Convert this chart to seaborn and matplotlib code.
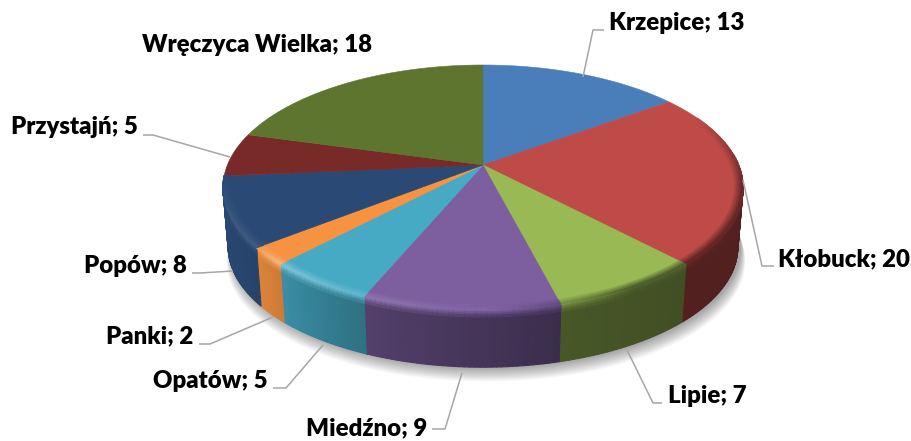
import numpy as np
import seaborn as sns
import matplotlib
matplotlib.use("Agg")
import matplotlib.pyplot as plt
from matplotlib.collections import PolyCollection

gminy = ['Krzepice', 'Kłobuck', 'Lipie', 'Miedźno', 'Opatów', 'Panki', 'Popów', 'Przystajń', 'Wręczyca Wielka']
counts = [13, 20, 7, 9, 5, 2, 8, 5, 18]
hex_colors = ['#4a7ebb', '#be4b48', '#98b954', '#7d5fa0', '#46aac5', '#f69240', '#2a4a75', '#772a28', '#5e7530']

# label anchor (px), alignment and leader polyline, all by hand
label_pos = [(609, 30, 'left'), (778, 266, 'left'), (668, 403, 'left'), (427, 435, 'right'), (268, 388, 'right'),
             (193, 343, 'right'), (187, 273, 'right'), (138, 134, 'right'), (372, 52, 'right')]
leaders = [[(583, 77), (593, 30), (604, 30)],
           [(743, 180), (762, 266), (774, 266)],
           [(627, 350), (653, 403), (662, 403)],
           [(462, 373), (445, 429), (432, 429)],
           [(323, 345), (286, 388), (273, 388)],
           [(273, 317), (210, 344), (199, 344)],
           [(233, 271), (200, 273), (192, 273)],
           [(230, 157), (153, 135), (143, 135)]]

sns.set_theme(style='white')
plt.rcParams['font.family'] = ['Lato', 'DejaVu Sans']
palette = sns.color_palette(hex_colors)

# perspective disc, pixel geometry
cx, cy = 483, 165
a, b, k = 255.6, 118.4, 0.184
bottom_cy, bottom_s = 225, 0.98


def top_xy(theta, scale=1.0):
    u, v = np.sin(theta) * scale, np.cos(theta) * scale
    d = 1 + k * v
    return np.c_[cx + a * u / d, cy - b * v / d]


def side_xy(theta, frac):
    # frac 0 = rim of the top, 1 = bottom edge of the side
    u, v = np.sin(theta), np.cos(theta)
    d = 1 + k * v
    s = 1 + (bottom_s - 1) * frac
    y0 = cy + (bottom_cy - cy) * frac
    return np.c_[cx + a * u * s / d, y0 - b * v * s / d]


def side_shade(deg):
    return np.interp(deg, [90, 140, 165, 190, 205, 225, 235, 280], [.42, .43, .47, .6, .68, .85, .92, 1.0])


def rim_light(deg):
    # >0 lighter rim on the front left, <0 dark rim on the right, nothing at the back
    return np.interp(deg, [65, 100, 150, 178, 205, 225, 232, 250, 265], [0, -.45, -.5, .02, .14, .3, .1, .06, 0])


def mix(col, other, t):
    return tuple(np.clip(np.array(col) * (1 - t) + np.array(other) * t, 0, 1))


def shaded(col, light):
    return mix(col, (1, 1, 1), light) if light > 0 else mix(col, (0, 0, 0), -light)


fig = plt.figure(figsize=(9.11, 4.41), dpi=100)
ax = fig.add_axes([0, 0, 1, 1])
ax.set_xlim(0, 911)
ax.set_ylim(441, 0)
ax.axis('off')

# soft shadow under the disc
ring = np.radians(np.arange(0, 361, 3))
base = side_xy(ring, 1)
for i in range(16):
    grow = 1 + 0.0012 * i
    sh = np.c_[cx + 3 + (base[:, 0] - cx) * grow, base[:, 1] + 1 + i * 0.9]
    ax.fill(sh[:, 0], sh[:, 1], color='#000000', alpha=0.022, lw=0, zorder=1)

edges = np.cumsum([0] + counts) / sum(counts) * 360
side_polys, side_cols = [], []
bev_polys, bev_cols = [], []
for i, col in enumerate(palette):
    step = np.arange(edges[i], edges[i + 1], 1.0)
    step = np.append(step, edges[i + 1])
    for d0, d1 in zip(step[:-1], step[1:]):
        mid = (d0 + d1) / 2
        th = np.radians([d0, d1])
        if 85 < mid < edges[7]:
            # side wall, darkens toward the right
            dark = mix(col, (0, 0, 0), 1 - side_shade(mid))
            p0, p1 = side_xy(th, 0), side_xy(th, 1)
            side_polys.append([p0[0], p0[1], p1[1], p1[0]])
            side_cols.append(dark)
            # rounded edge on the side, rim colour fading into the wall
            fr = np.linspace(0, 0.12, 5)
            for f0, f1 in zip(fr[:-1], fr[1:]):
                q0, q1 = side_xy(th, f0), side_xy(th, f1)
                t = f0 / 0.12
                side_polys.append([q0[0], q0[1], q1[1], q1[0]])
                side_cols.append(mix(shaded(col, rim_light(mid)), dark, t))
        # rounded edge on the top surface
        if rim_light(mid) != 0:
            sc = np.linspace(0.97, 1.0, 5)
            for s0, s1 in zip(sc[:-1], sc[1:]):
                q0, q1 = top_xy(th, s0), top_xy(th, s1)
                t = (s1 - 0.97) / 0.03
                bev_polys.append([q0[0], q0[1], q1[1], q1[0]])
                bev_cols.append(mix(col, shaded(col, rim_light(mid)), t))

ax.add_collection(PolyCollection(side_polys, facecolors=side_cols, edgecolors=side_cols, linewidths=0.8, zorder=2))

for i, col in enumerate(palette):
    th = np.radians(np.linspace(edges[i], edges[i + 1], 80))
    pts = np.vstack([[cx, cy], top_xy(th)])
    ax.fill(pts[:, 0], pts[:, 1], facecolor=col, edgecolor=col, lw=0.4, zorder=3)

ax.add_collection(PolyCollection(bev_polys, facecolors=bev_cols, edgecolors=bev_cols, linewidths=0.8, zorder=4))

for line in leaders:
    xs, ys = zip(*line)
    ax.plot(xs, ys, color='#a6a6a6', lw=1.1, zorder=5, solid_capstyle='butt')

for name, n, (x, y, ha) in zip(gminy, counts, label_pos):
    ax.text(x, y, f'{name}; {n}', ha=ha, va='baseline', fontsize=17.3, fontweight='heavy', color='black', zorder=6)

fig.savefig('out.png', dpi=100)
